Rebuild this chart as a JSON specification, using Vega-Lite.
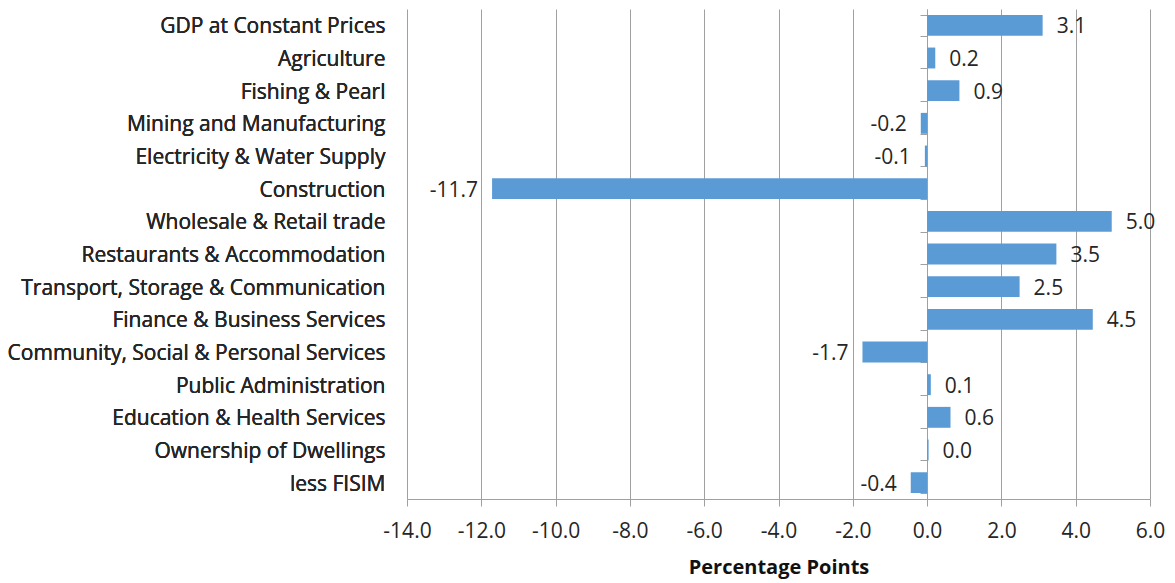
{
  "$schema": "https://vega.github.io/schema/vega-lite/v6.json",
  "autosize": "none",
  "width": 743,
  "height": 490,
  "padding": {"left": 407, "top": 9, "right": 25, "bottom": 84},
  "background": "white",
  "config": {
    "font": "Open Sans",
    "view": {"stroke": null},
    "locale": {"number": {"decimal": ".", "thousands": ",", "grouping": [3], "currency": ["$", ""], "minus": "-"}}
  },
  "data": {
    "values": [
      {"sector": "GDP at Constant Prices", "value": 3.11},
      {"sector": "Agriculture", "value": 0.22},
      {"sector": "Fishing & Pearl", "value": 0.87},
      {"sector": "Mining and Manufacturing", "value": -0.17},
      {"sector": "Electricity & Water Supply", "value": -0.06},
      {"sector": "Construction", "value": -11.71},
      {"sector": "Wholesale & Retail trade", "value": 4.97},
      {"sector": "Restaurants & Accommodation", "value": 3.48},
      {"sector": "Transport, Storage & Communication", "value": 2.49},
      {"sector": "Finance & Business Services", "value": 4.46},
      {"sector": "Community, Social & Personal Services", "value": -1.74},
      {"sector": "Public Administration", "value": 0.1},
      {"sector": "Education & Health Services", "value": 0.63},
      {"sector": "Ownership of Dwellings", "value": 0.04},
      {"sector": "less FISIM", "value": -0.44}
    ]
  },
  "encoding": {
    "y": {
      "field": "sector",
      "type": "nominal",
      "sort": null,
      "scale": {"paddingInner": 0.36, "paddingOuter": 0.18},
      "axis": {
        "title": null,
        "orient": "left",
        "domain": false,
        "ticks": false,
        "labelPadding": 22,
        "labelOffset": 2,
        "labelFontSize": 21,
        "labelColor": "#262626",
        "labelLimit": 420
      }
    }
  },
  "layer": [
    {
      "mark": {"type": "bar", "color": "#5B9BD5"},
      "encoding": {
        "x": {
          "field": "value",
          "type": "quantitative",
          "scale": {"domain": [-14, 6], "nice": false, "zero": false},
          "axis": {
            "values": [-14, -12, -10, -8, -6, -4, -2, 0, 2, 4, 6],
            "format": ".1f",
            "grid": true,
            "gridColor": "#A0A0A0",
            "gridWidth": 1,
            "domainColor": "#A0A0A0",
            "tickColor": "#A0A0A0",
            "tickSize": 7,
            "labelFlush": false,
            "labelOverlap": false,
            "labelFontSize": 21,
            "labelColor": "#262626",
            "labelPadding": 14,
            "title": "Percentage Points",
            "titleFont": "Open Sans",
            "titleFontSize": 20,
            "titleFontWeight": "bold",
            "titleColor": "#111111",
            "titlePadding": 16
          }
        }
      }
    },
    {
      "mark": {"type": "rule", "color": "#A0A0A0", "strokeWidth": 1},
      "encoding": {
        "y": {
          "field": "sector",
          "type": "nominal",
          "sort": null,
          "axis": {
            "orient": "right",
            "offset": -223,
            "title": null,
            "labels": false,
            "domain": true,
            "domainColor": "#A0A0A0",
            "ticks": true,
            "tickBand": "extent",
            "tickColor": "#A0A0A0",
            "tickSize": -7,
            "grid": false
          }
        },
        "x": {"datum": 0, "type": "quantitative"},
        "opacity": {"value": 0}
      }
    },
    {
      "transform": [{"filter": "datum.value >= 0"}],
      "mark": {"type": "text", "align": "left", "baseline": "middle", "dx": 14, "dy": 2, "fontSize": 21, "color": "#262626"},
      "encoding": {
        "x": {"field": "value", "type": "quantitative"},
        "text": {"field": "value", "type": "quantitative", "format": ".1f"}
      }
    },
    {
      "transform": [{"filter": "datum.value < 0"}],
      "mark": {"type": "text", "align": "right", "baseline": "middle", "dx": -14, "dy": 2, "fontSize": 21, "color": "#262626"},
      "encoding": {
        "x": {"field": "value", "type": "quantitative"},
        "text": {"field": "value", "type": "quantitative", "format": ".1f"}
      }
    }
  ],
  "resolve": {"axis": {"y": "independent"}}
}
